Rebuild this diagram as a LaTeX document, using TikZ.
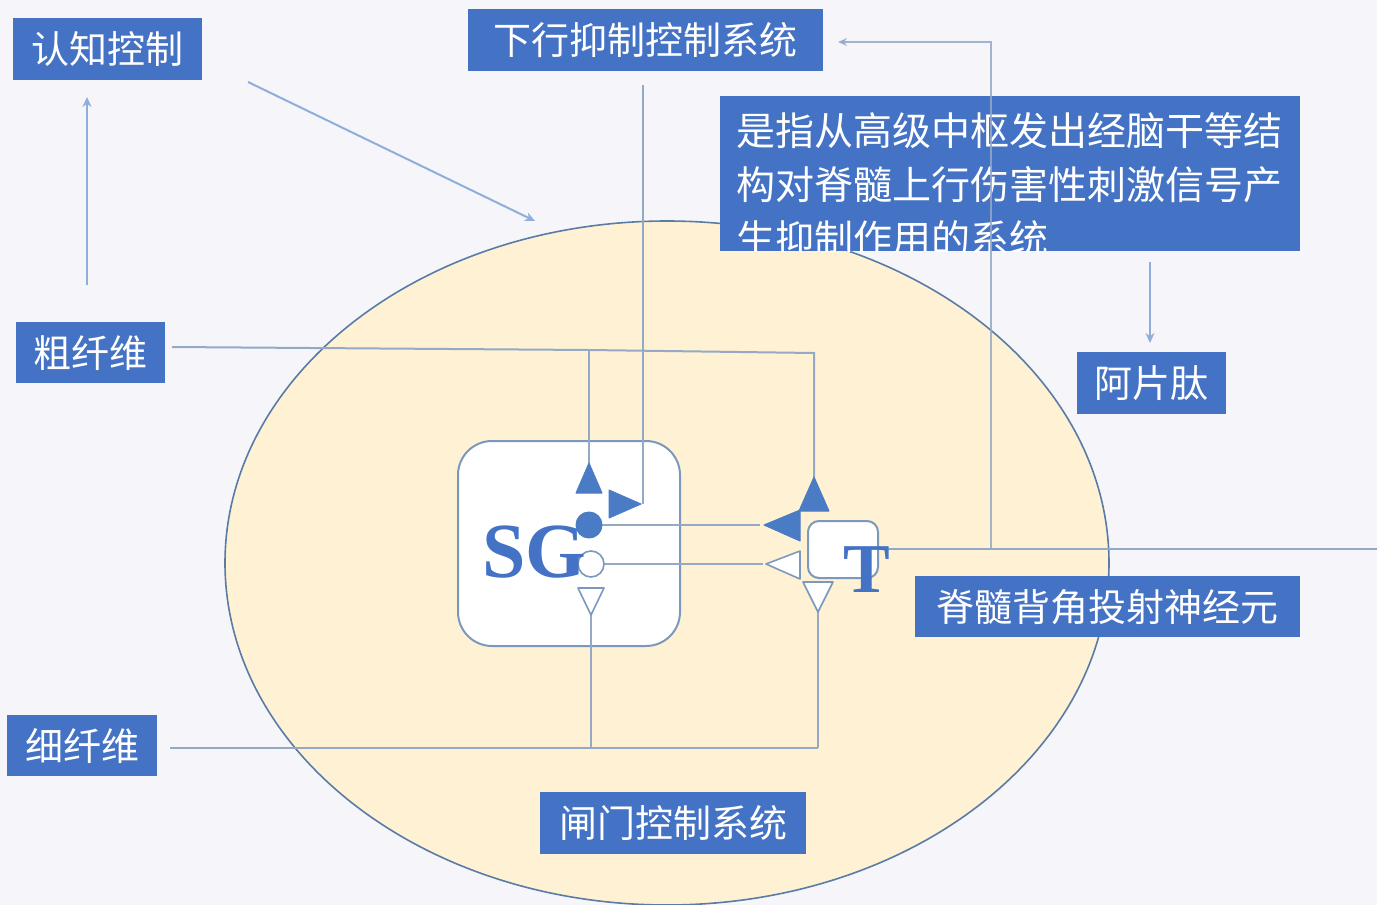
\documentclass[tikz,border=0pt]{standalone}
\usepackage{fontspec}
\setmainfont{Liberation Serif}
\newfontfamily\cjk{Noto Sans CJK SC}
\usetikzlibrary{arrows.meta}
\definecolor{boxblue}{HTML}{4472C4}
\definecolor{cream}{HTML}{FFF2D4}
\definecolor{ellline}{HTML}{5A7BA6}
\definecolor{wirec}{HTML}{93A9C6}
\definecolor{arrc}{HTML}{8FAEDC}
\definecolor{shapeblue}{HTML}{4A7CC6}
\definecolor{openline}{HTML}{7C98BD}
\definecolor{bgc}{HTML}{F6F6FA}
\begin{document}
\begin{tikzpicture}[x=1pt,y=-1pt,
  lbl/.style={fill=boxblue, text=white, font=\cjk\fontsize{38}{44}\selectfont, inner sep=0pt, anchor=north west, align=center},
  wire/.style={draw=wirec, line width=2pt},
  arrowline/.style={draw=arrc, line width=2pt, -{Stealth[length=10pt,width=9pt]}},
  fillshape/.style={fill=shapeblue, draw=shapeblue, line width=1pt, line join=round},
  openshape/.style={fill=white, draw=openline, line width=1.6pt, line join=round},
  desctext/.style={text=white, font=\cjk\fontsize{39}{54}\selectfont, inner sep=0pt, anchor=base west}
]
\useasboundingbox (0,0) rectangle (1377,905);
\fill[bgc] (0,0) rectangle (1377,905);

% ellipse
\draw[ellline, fill=cream, line width=1.6pt] (667,563) ellipse [x radius=442pt, y radius=342pt];

% label boxes
\node[lbl, minimum width=189pt, minimum height=62pt] (cog) at (13,18) {认知控制};
\node[lbl, minimum width=355pt, minimum height=62pt] (down) at (468,9) {下行抑制控制系统};
\node[lbl, minimum width=149pt, minimum height=62pt] (opi) at (1077,352) {阿片肽};
\node[lbl, minimum width=149pt, minimum height=61pt] (cu) at (16,322) {粗纤维};
\node[lbl, minimum width=150pt, minimum height=61pt] (xi) at (7,715) {细纤维};
\node[lbl, minimum width=266pt, minimum height=62pt] (gate) at (540,792) {闸门控制系统};
\node[lbl, minimum width=385pt, minimum height=61pt] (proj) at (915,576) {脊髓背角投射神经元};

% description box (text clipped at bottom)
\node[fill=boxblue, inner sep=0pt, minimum width=580pt, minimum height=155pt, anchor=north west] (desc) at (720,96) {};
\begin{scope}
  \clip (desc.north west) rectangle (desc.south east);
  \node[desctext] (d1) at (736,145) {是指从高级中枢发出经脑干等结};
  \node[desctext] (d2) at (736,199) {构对脊髓上行伤害性刺激信号产};
  \node[desctext] (d3) at (736,253) {生抑制作用的系统};
\end{scope}

% SG and T boxes
\node[draw=openline, fill=white, rounded corners=34pt, line width=2pt, minimum width=222pt, minimum height=205pt, anchor=north west, inner sep=0pt] (sg) at (457,440) {};
\node[draw=openline, fill=white, rounded corners=11pt, line width=2pt, minimum width=70pt, minimum height=57pt, anchor=north west, inner sep=0pt] (tb) at (807,520) {};

% key coordinates
\coordinate (cuS) at (172,347);
\coordinate (cuM) at (589,350);
\coordinate (cuE) at (814,353);
\coordinate (sgUp) at (589,463);
\coordinate (sgRt) at (641,504);
\coordinate (dnS) at (643,85);
\coordinate (dnE) at (643,504);
\coordinate (fc) at (589,525);
\coordinate (oc) at (591,564);
\coordinate (sgDn) at (591,615);
\coordinate (tUp) at (814,477);
\coordinate (tLf) at (764,525);
\coordinate (tLo) at (766,564);
\coordinate (tDn) at (818,612);
\coordinate (xiS) at (170,748);
\coordinate (xiM) at (591,748);
\coordinate (xiE) at (818,748);
\coordinate (tOut) at (877,549);
\coordinate (edge) at (1377,549);
\coordinate (vJ) at (991,549);
\coordinate (vT) at (991,42);
\coordinate (dnArr) at (838,42);

% wires
\draw[wire] (cuS) -- (cuM) -- (cuE) -- (tUp);
\draw[wire] (cuM) -- (sgUp);
\draw[wire] (dnS) -- (dnE);
\draw[wire] (fc) -- ([xshift=-4pt]tLf);
\draw[wire] (oc) -- ([xshift=-3pt]tLo);
\draw[wire] (sgDn) -- (xiM);
\draw[wire] (tDn) -- (xiE);
\draw[wire] (xiS) -- (xiE);
\draw[wire] (tOut) -- (edge);
\draw[wire, opacity=0.85, -{Stealth[length=9pt,width=8pt]}] (vJ) -- (vT) -- (dnArr);

% arrows
\draw[arrowline] (87,285) -- (87,97);
\draw[arrowline] (248,82) -- (535,221);
\draw[arrowline] (1150,262) -- (1150,343);

% SG markers
\draw[fillshape] (sgUp) -- (576,493) -- (602,493) -- cycle;
\draw[fillshape] (sgRt) -- (609,490) -- (609,518) -- cycle;
\draw[fillshape] (fc) circle [radius=13pt];
\draw[openshape] (oc) circle [radius=13pt];
\draw[openshape] (sgDn) -- (578,588) -- (604,588) -- cycle;

% T markers
\draw[fillshape] (tUp) -- (799,511) -- (829,511) -- cycle;
\draw[fillshape] (tLf) -- (800,510) -- (800,541) -- cycle;
\draw[openshape] (tLo) -- (800,551) -- (800,579) -- cycle;
\draw[openshape] (tDn) -- (803,582) -- (833,582) -- cycle;

% letters
\node[text=boxblue, font=\bfseries\fontsize{78}{78}\selectfont, inner sep=0pt, anchor=base west] (sgtxt) at (482,577) {SG};
\node[text=boxblue, font=\bfseries\fontsize{70}{70}\selectfont, inner sep=0pt, anchor=base west] (ttxt) at (843,592) {T};
\end{tikzpicture}
\end{document}
